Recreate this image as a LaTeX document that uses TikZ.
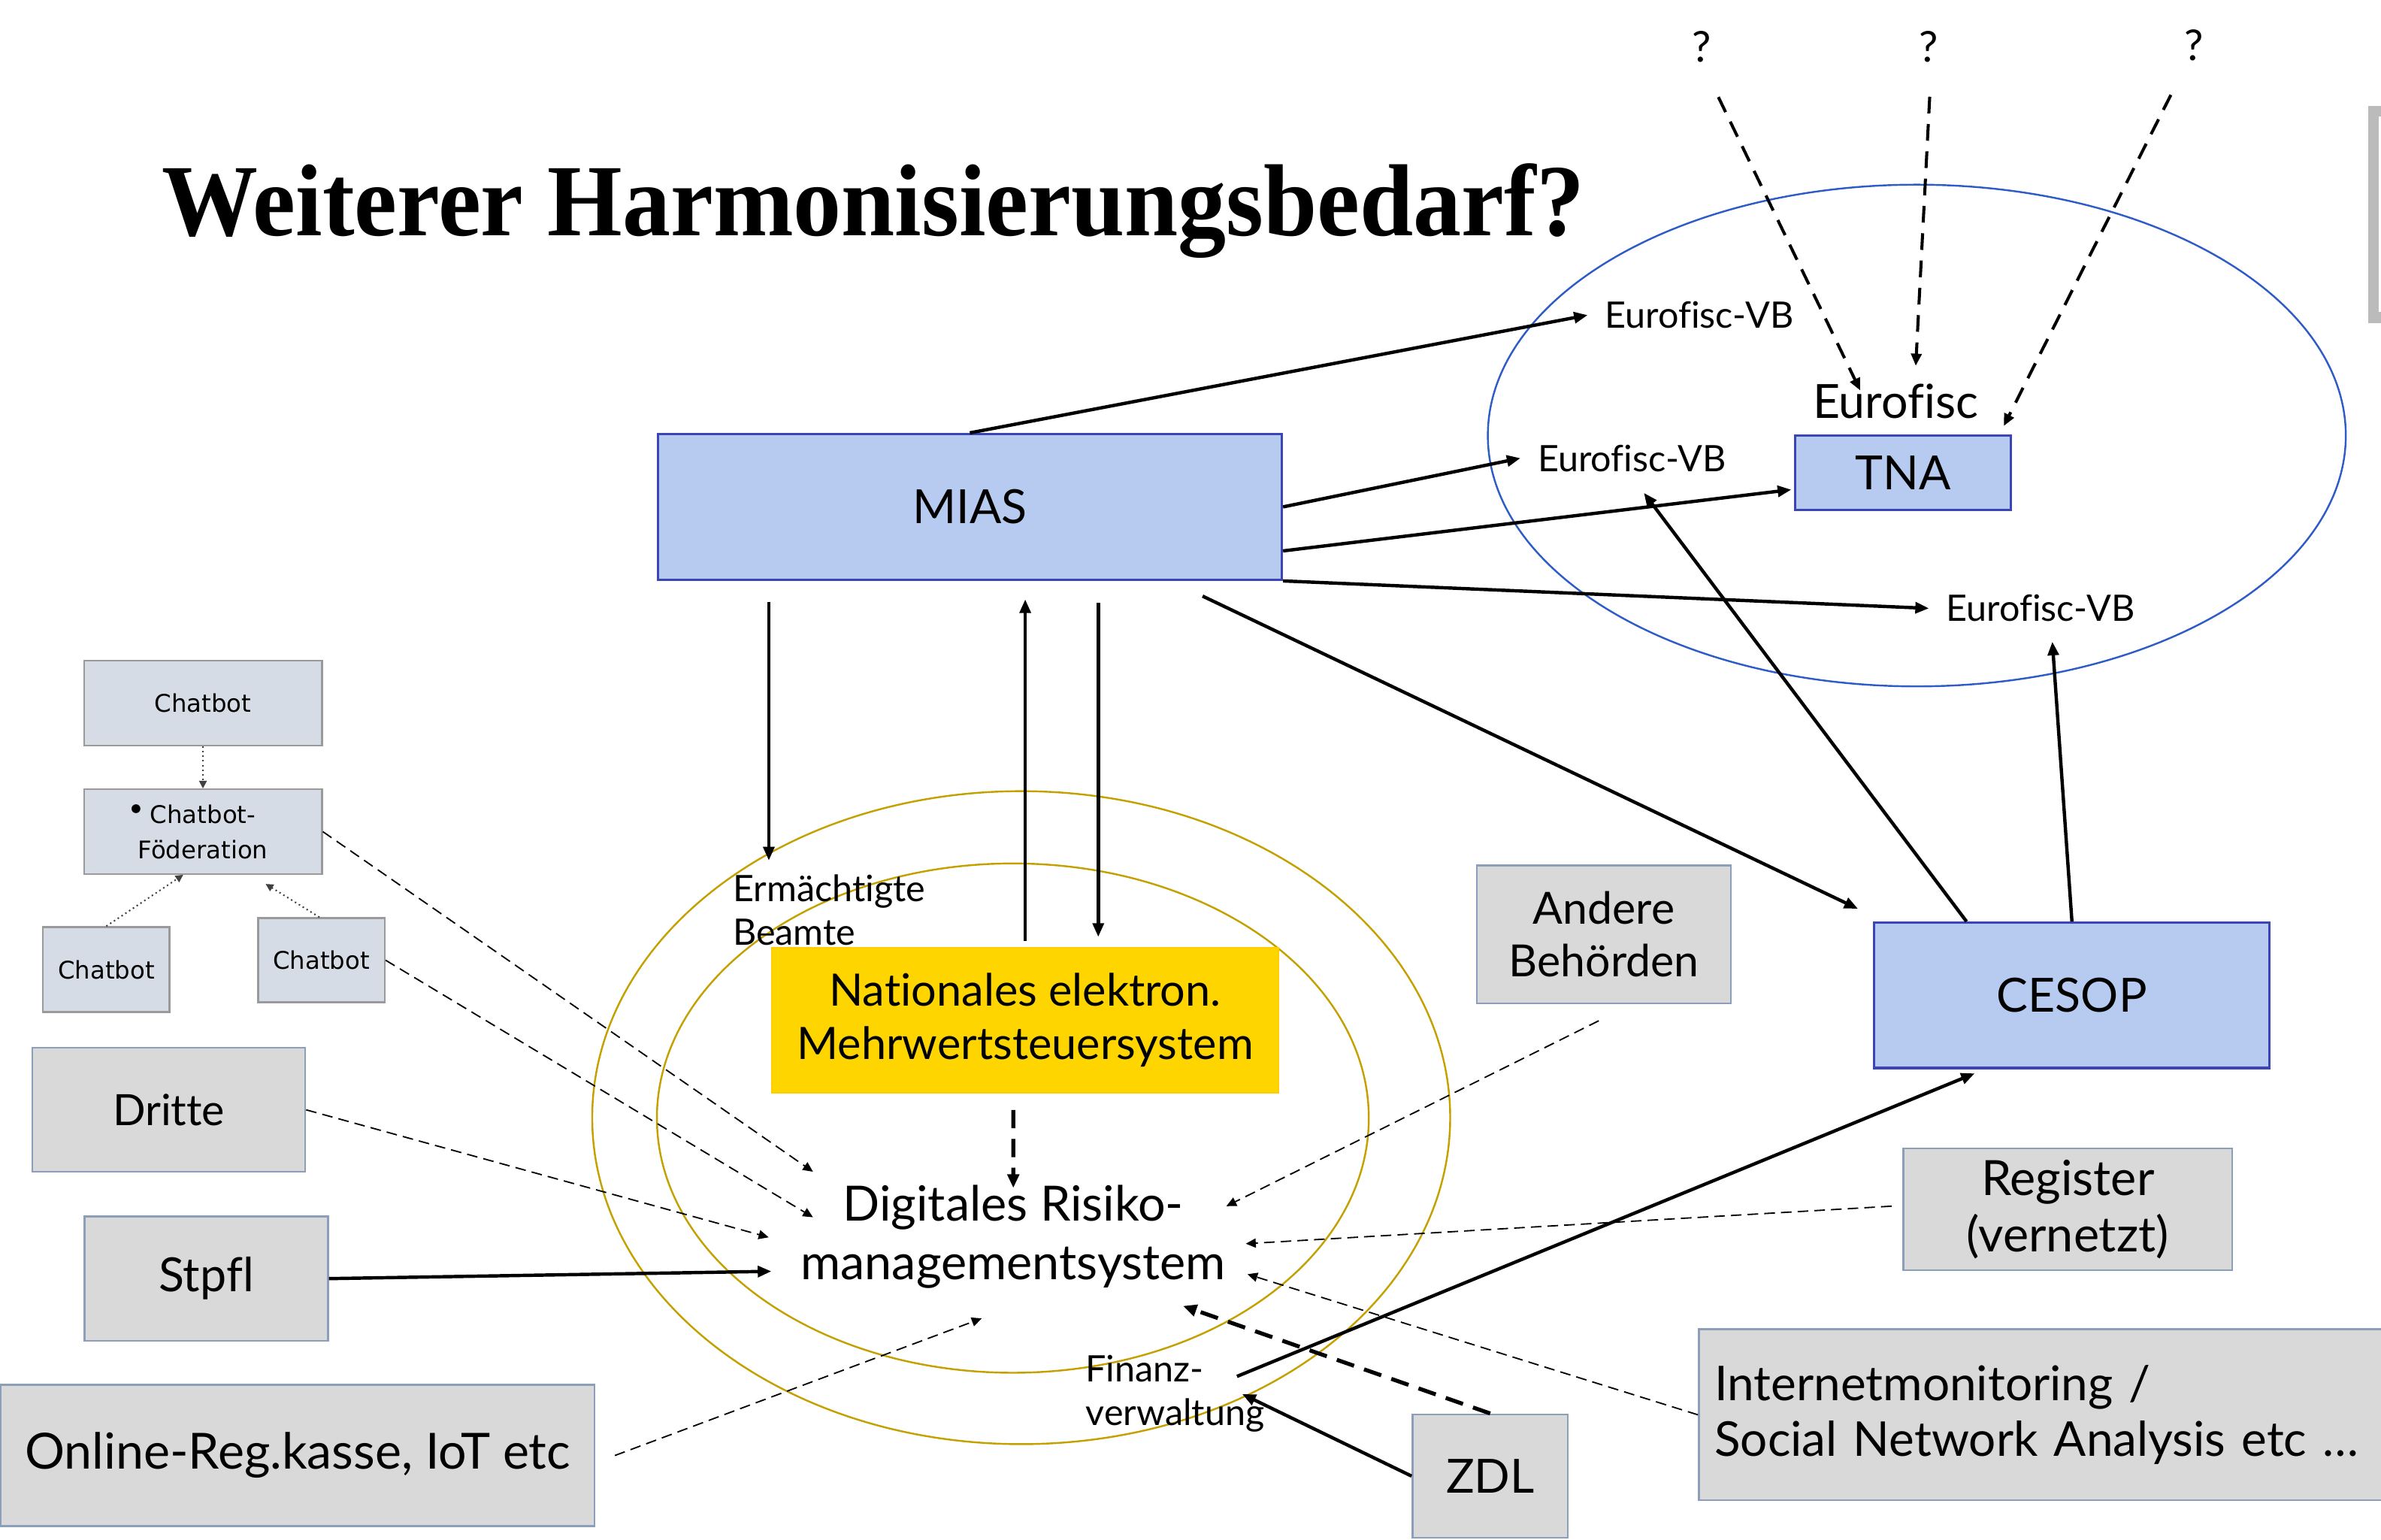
\documentclass[tikz,border=0pt]{standalone}
\usepackage{fontspec}
\setmainfont{Lato}[Ligatures=NoCommon]
\newfontfamily\titlefont{Liberation Serif}
\newfontfamily\chatfont{DejaVu Sans}
\usetikzlibrary{arrows.meta,calc}

\definecolor{miasfill}{HTML}{B7CBF1}
\definecolor{miasborder}{HTML}{3B45B8}
\definecolor{euroblue}{HTML}{2D5BC8}
\definecolor{goldline}{HTML}{C4A000}
\definecolor{natyellow}{HTML}{FFD500}
\definecolor{grayfill}{HTML}{D9D9D9}
\definecolor{grayborder}{HTML}{8C9FBA}
\definecolor{chatfill}{HTML}{D6DCE5}
\definecolor{chatborder}{HTML}{9A9A9A}
\definecolor{bracketgray}{HTML}{BBBBBB}

\newcommand\fbig{\fontsize{15.5pt}{18pt}\selectfont}
\newcommand\fmid{\fontsize{14.6pt}{17.5pt}\selectfont}
\newcommand\fbigger{\fontsize{16pt}{18.5pt}\selectfont}
\newcommand\fyellow{\fontsize{14.7pt}{17.4pt}\selectfont}
\newcommand\fdrms{\fontsize{16pt}{19.25pt}\selectfont}
\newcommand\fsmall{\fontsize{12pt}{14.2pt}\selectfont}
\newcommand\fq{\fontsize{14pt}{16pt}\selectfont}
\newcommand\fchat{\chatfont\fontsize{8pt}{11.5pt}\selectfont}

\begin{document}
\begin{tikzpicture}[x=0.5pt,y=-0.5pt,
  bluebox/.style={draw=miasborder,fill=miasfill,line width=0.75pt,inner sep=0pt,font=\fbig},
  graybox/.style={draw=grayborder,fill=grayfill,line width=0.6pt,inner sep=0pt,align=center,font=\fbig},
  chatbox/.style={draw=chatborder,fill=chatfill,line width=0.6pt,inner sep=0pt,align=center,font=\fchat},
  vblabel/.style={inner sep=5.5pt,font=\fsmall},
  txt/.style={inner sep=0pt,align=left,font=\fsmall},
  solidarr/.style={line width=1.1pt,-{Triangle[length=4.5pt,width=3.6pt]}},
  thinarr/.style={line width=0.45pt,dash pattern=on 3.5pt off 2pt,-{Triangle[length=3.3pt,width=3pt]}},
  thickdash/.style={line width=1.3pt,dash pattern=on 6pt off 3.5pt,-{Triangle[length=4.5pt,width=3.8pt]}},
  qarr/.style={line width=1pt,dash pattern=on 5.5pt off 3.5pt,-{Triangle[length=4pt,width=3.4pt]}},
  dotarr/.style={line width=0.5pt,densely dotted,draw=black!75,-{Triangle[length=2.5pt,width=2.5pt]}},
]
\useasboundingbox (0,0) rectangle (1568,1014);

% partial frame at the right edge
\draw[bracketgray,line width=3.5pt,line join=miter] (1590,73.2) -- (1563.1,73.2) -- (1563.1,209.1) -- (1590,209.1);

% title
\node[anchor=base west,inner sep=0pt,font=\titlefont\bfseries\fontsize{33.7pt}{40pt}\selectfont] (title) at (106.4,155.1) {\scalebox{0.94}[1]{Weiterer Harmonisierungsbedarf?}};

% ellipses
\draw[euroblue,line width=0.6pt] (1262.3,286.8) ellipse [x radius=141.25pt,y radius=82.6pt];
\draw[goldline,line width=0.6pt] (672.5,736) ellipse [x radius=141.25pt,y radius=107.5pt];
\draw[goldline,line width=0.6pt] (667,736.3) ellipse [x radius=117.2pt,y radius=83.85pt];

% boxes
\node[bluebox,minimum width=205.5pt,minimum height=48pt] (mias) at (638.7,333.8) {MIAS};
\node[bluebox,minimum width=70.9pt,minimum height=24.55pt] (tna) at (1253.3,311.25) {TNA};
\node[bluebox,minimum width=130.15pt,minimum height=47.85pt] (cesop) at (1364.45,655.45) {CESOP};
\node[graybox,minimum width=83.65pt,minimum height=45.35pt,font=\fmid] (andere) at (1056.25,615.25) {Andere\\Behörden};
\node[graybox,minimum width=108.35pt,minimum height=40.1pt,font=\fbigger] (register) at (1361.75,796.4) {Register\\(vernetzt)};
\node[graybox,align=left,text width=225pt,inner xsep=5.15pt,minimum height=56.3pt,anchor=west,font=\fontsize{15.8pt}{18.5pt}\selectfont] (internet) at (1118.2,931.7) {Internetmonitoring /\\Social Network Analysis etc …};
\node[graybox,minimum width=51.15pt,minimum height=40.65pt] (zdl) at (981.35,972.05) {ZDL};
\node[graybox,minimum width=195.5pt,minimum height=46.5pt,font=\fontsize{16.4pt}{19pt}\selectfont] (online) at (196,958.5) {Online-Reg.kasse, IoT etc};
\node[graybox,minimum width=80.15pt,minimum height=41pt] (stpfl) at (135.85,842) {Stpfl};
\node[graybox,minimum width=89.85pt,minimum height=40.85pt,font=\fontsize{14.2pt}{17pt}\selectfont] (dritte) at (111.15,730.85) {Dritte};
\node[chatbox,minimum width=78.35pt,minimum height=28pt] (cbtop) at (133.65,463) {Chatbot};
\node[chatbox,minimum width=78.35pt,minimum height=27.85pt] (fod) at (133.65,547.65) {\llap{\raisebox{0.25ex}{\scalebox{1.25}{•}}\hspace{0.2em}}Chatbot-\\Föderation};
\node[chatbox,minimum width=41.7pt,minimum height=27.95pt] (cbl) at (70,638.45) {Chatbot};
\node[chatbox,minimum width=41.65pt,minimum height=27.7pt] (cbr) at (211.65,632.3) {Chatbot};
\node[fill=natyellow,draw=natyellow!92!orange,line width=0.5pt,inner sep=0pt,minimum width=166.85pt,minimum height=47.9pt,align=center,font=\fyellow] (nat) at (675.15,671.8) {Nationales elektron.\\Mehrwertsteuersystem};

% labels
\node[vblabel] (vb1) at (1119,207.5) {Eurofisc-VB};
\node[vblabel] (vb2) at (1074.75,301.7) {Eurofisc-VB};
\node[vblabel] (vb3) at (1343.75,400.6) {Eurofisc-VB};
\node[inner sep=0pt,font=\fbig] (euro) at (1248.3,264.2) {Eurofisc};
\node[inner sep=0pt,font=\fq] (q1) at (1120.8,31) {?};
\node[inner sep=0pt,font=\fq] (q2) at (1270,31) {?};
\node[inner sep=0pt,font=\fq] (q3) at (1445,29.6) {?};
\node[txt,anchor=west] (beamte) at (482.2,599.2) {Ermächtigte\\Beamte};
\node[txt,anchor=west] (fin) at (714.6,917.8) {Finanz-\\verwaltung};
\node[inner sep=0pt,align=center,font=\fdrms] (drms) at (667.3,814.5) {Digitales Risiko-\\managementsystem};

% MIAS connectors
\draw[solidarr] (mias.north) -- (vb1.west);
\draw[solidarr] (mias.east) -- (vb2.west);
\draw[solidarr] (mias.-8.6) -- ($(tna.west)+(-2,11.2)$);
\draw[solidarr] (mias.south east) -- (vb3.west);
\draw[solidarr] ($(mias.south east)+(-53,10)$) -- ($(cesop.north west)+(-10,-8.4)$);
\draw[solidarr] ($(beamte.north west |- mias.south)+(24.1,13.7)$) -- ($(beamte.north west)+(24.1,-9)$);
\draw[solidarr] ($(nat.north)+(0,-3.8)$) -- ($(nat.north |- mias.south)+(0,12.1)$);
\draw[solidarr] ($(nat.north |- mias.south)+(48.1,14.4)$) -- ($(nat.north)+(48.1,-6.4)$);

% CESOP connectors
\draw[solidarr] ($(cesop.north)+(-69.4,0)$) -- ($(vb2.south)+(7.8,2.6)$);
\draw[solidarr] (cesop.north) -- ($(vb3.south)+(7.8,1.7)$);
\draw[solidarr] ($(fin.west)+(100,-11.4)$) -- ($(cesop.south)+(-64,2.8)$);
\draw[solidarr] (zdl.west) -- ($(fin.west)+(103.4,0.2)$);

% into the risk management system
\draw[thickdash] (zdl.north) -- ($(drms.center)+(111.8,45.5)$);
\draw[thickdash] ($(nat.south)+(-7.9,10.8)$) -- ($(drms.center)+(0,-32.2)$);
\draw[solidarr] (stpfl.east) -- ($(drms.center)+(-159.3,22.7)$);
\draw[thinarr] (dritte.east) -- ($(drms.center)+(-161.1,0.3)$);
\draw[thinarr] (fod.east) -- ($(drms.center)+(-131.9,-42.9)$);
\draw[thinarr] (cbr.east) -- ($(drms.center)+(-131.9,-12.9)$);
\draw[thinarr] ($(online.east)+(12.8,0)$) -- ($(drms.center)+(-20.8,53.7)$);
\draw[thinarr] ($(andere.south)+(-3.4,11)$) -- ($(drms.center)+(140.3,-20.2)$);
\draw[thinarr] ($(register.west)+(-7.1,-2.1)$) -- ($(drms.center)+(153.1,4.5)$);
\draw[thinarr] (internet.west) -- ($(drms.center)+(154.2,24.6)$);

% chatbot federation
\draw[dotarr] (cbtop.south) -- (fod.north);
\draw[dotarr] (cbl.north) -- ($(fod.south)+(-13,0)$);
\draw[dotarr] ($(cbr.north)+(-1.3,0)$) -- ($(fod.south)+(41.3,6)$);

% question marks
\draw[qarr] ($(q1.center)+(10.8,32.9)$) -- ($(euro.center)+(-23.3,-7.1)$);
\draw[qarr] ($(q2.center)+(0.8,32.7)$) -- ($(euro.center)+(13.3,-23.3)$);
\draw[qarr] ($(q3.center)+(-15.4,32.9)$) -- ($(tna.north east)+(-5.4,-5.4)$);
\end{tikzpicture}
\end{document}
